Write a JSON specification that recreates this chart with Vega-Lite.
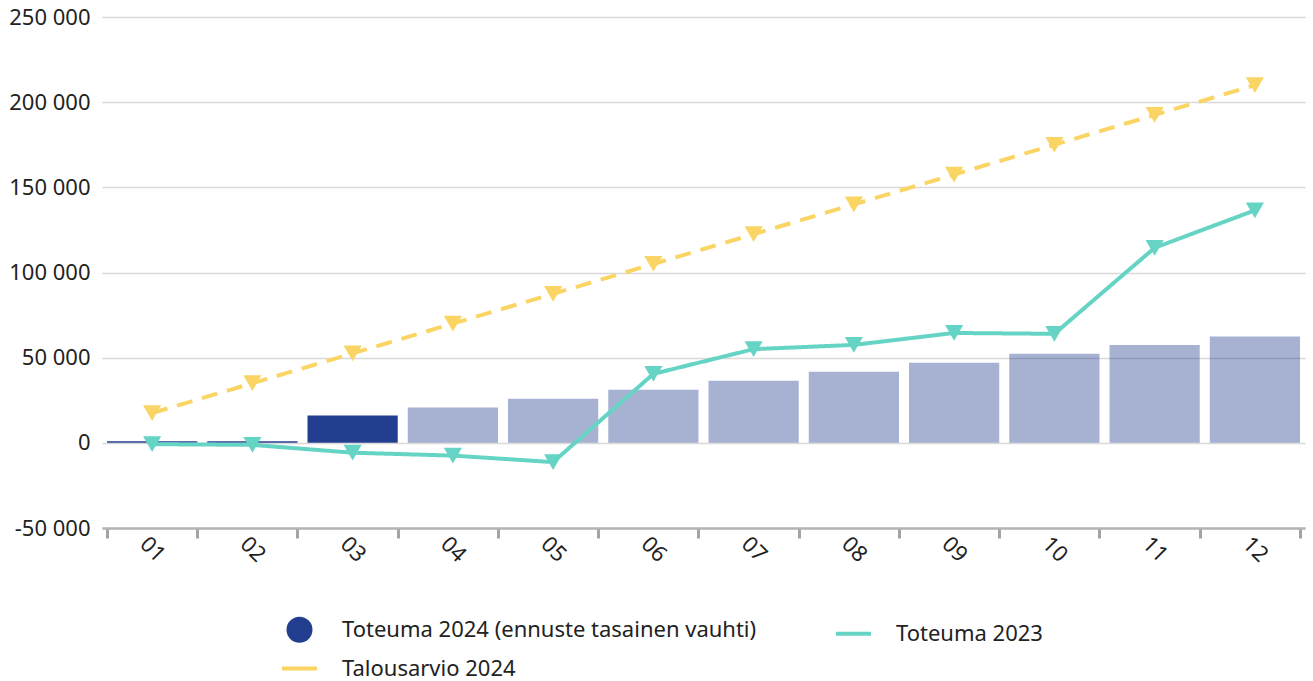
{
  "$schema": "https://vega.github.io/schema/vega-lite/v6.json",
  "width": 1203,
  "height": 511,
  "autosize": "none",
  "padding": {"left": 102, "top": 17, "right": 8, "bottom": 153},
  "config": {
    "font": "Noto Sans",
    "view": {"stroke": null},
    "locale": {"number": {"decimal": ",", "thousands": " ", "grouping": [3], "currency": ["", " €"], "minus": "-"}}
  },
  "data": {
    "values": [
      {"kk": "01", "sarja": "Toteuma 2024 (ennuste tasainen vauhti)", "arvo": 900, "ennuste": "ei"},
      {"kk": "02", "sarja": "Toteuma 2024 (ennuste tasainen vauhti)", "arvo": 1000, "ennuste": "ei"},
      {"kk": "03", "sarja": "Toteuma 2024 (ennuste tasainen vauhti)", "arvo": 16000, "ennuste": "ei"},
      {"kk": "04", "sarja": "Toteuma 2024 (ennuste tasainen vauhti)", "arvo": 20700, "ennuste": "kyllä"},
      {"kk": "05", "sarja": "Toteuma 2024 (ennuste tasainen vauhti)", "arvo": 25900, "ennuste": "kyllä"},
      {"kk": "06", "sarja": "Toteuma 2024 (ennuste tasainen vauhti)", "arvo": 31200, "ennuste": "kyllä"},
      {"kk": "07", "sarja": "Toteuma 2024 (ennuste tasainen vauhti)", "arvo": 36500, "ennuste": "kyllä"},
      {"kk": "08", "sarja": "Toteuma 2024 (ennuste tasainen vauhti)", "arvo": 41800, "ennuste": "kyllä"},
      {"kk": "09", "sarja": "Toteuma 2024 (ennuste tasainen vauhti)", "arvo": 47000, "ennuste": "kyllä"},
      {"kk": "10", "sarja": "Toteuma 2024 (ennuste tasainen vauhti)", "arvo": 52300, "ennuste": "kyllä"},
      {"kk": "11", "sarja": "Toteuma 2024 (ennuste tasainen vauhti)", "arvo": 57500, "ennuste": "kyllä"},
      {"kk": "12", "sarja": "Toteuma 2024 (ennuste tasainen vauhti)", "arvo": 62500, "ennuste": "kyllä"},
      {"kk": "01", "sarja": "Talousarvio 2024", "arvo": 17500},
      {"kk": "02", "sarja": "Talousarvio 2024", "arvo": 35000},
      {"kk": "03", "sarja": "Talousarvio 2024", "arvo": 52500},
      {"kk": "04", "sarja": "Talousarvio 2024", "arvo": 70000},
      {"kk": "05", "sarja": "Talousarvio 2024", "arvo": 87500},
      {"kk": "06", "sarja": "Talousarvio 2024", "arvo": 105000},
      {"kk": "07", "sarja": "Talousarvio 2024", "arvo": 122500},
      {"kk": "08", "sarja": "Talousarvio 2024", "arvo": 140000},
      {"kk": "09", "sarja": "Talousarvio 2024", "arvo": 157500},
      {"kk": "10", "sarja": "Talousarvio 2024", "arvo": 175000},
      {"kk": "11", "sarja": "Talousarvio 2024", "arvo": 192500},
      {"kk": "12", "sarja": "Talousarvio 2024", "arvo": 210000},
      {"kk": "01", "sarja": "Toteuma 2023", "arvo": -800},
      {"kk": "02", "sarja": "Toteuma 2023", "arvo": -1200},
      {"kk": "03", "sarja": "Toteuma 2023", "arvo": -5800},
      {"kk": "04", "sarja": "Toteuma 2023", "arvo": -7500},
      {"kk": "05", "sarja": "Toteuma 2023", "arvo": -11300},
      {"kk": "06", "sarja": "Toteuma 2023", "arvo": 40500},
      {"kk": "07", "sarja": "Toteuma 2023", "arvo": 55000},
      {"kk": "08", "sarja": "Toteuma 2023", "arvo": 57500},
      {"kk": "09", "sarja": "Toteuma 2023", "arvo": 64500},
      {"kk": "10", "sarja": "Toteuma 2023", "arvo": 64000},
      {"kk": "11", "sarja": "Toteuma 2023", "arvo": 114500},
      {"kk": "12", "sarja": "Toteuma 2023", "arvo": 136500}
    ]
  },
  "encoding": {
    "x": {
      "field": "kk", "type": "ordinal", "title": null,
      "scale": {"paddingInner": 0.1, "paddingOuter": 0.05},
      "axis": {
        "labelAngle": 45, "labelAlign": "center", "labelBaseline": "middle",
        "labelFontSize": 22, "labelColor": "#222", "labelPadding": 11,
        "tickBand": "extent", "tickSize": 10, "tickWidth": 3, "tickColor": "#a0a3a8",
        "domainColor": "#b4b4b4", "domainWidth": 2.5, "grid": false
      }
    },
    "y": {
      "field": "arvo", "type": "quantitative", "title": null,
      "scale": {"domain": [-50000, 250000], "nice": false, "zero": false},
      "axis": {
        "values": [-50000, 0, 50000, 100000, 150000, 200000, 250000],
        "format": ",d", "labelFontSize": 22, "labelColor": "#222", "labelPadding": 12,
        "ticks": false, "domain": false, "gridColor": "#d9d9d9", "gridWidth": 1.5
      }
    },
    "color": {
      "field": "sarja", "type": "nominal",
      "scale": {
        "domain": ["Toteuma 2024 (ennuste tasainen vauhti)", "Toteuma 2023", "Talousarvio 2024"],
        "range": ["#233e8f", "#66d4c4", "#fad564"]
      },
      "legend": {
        "title": null, "orient": "none", "legendX": 178, "legendY": 593,
        "direction": "horizontal", "columns": 2, "columnPadding": 71, "rowPadding": -4,
        "padding": 0, "symbolSize": 1225, "symbolStrokeWidth": 4,
        "labelFontSize": 22, "labelColor": "#222", "labelOffset": 23, "labelLimit": 600,
        "labelBaseline": "middle",
        "symbolOpacity": 1,
        "encode": {
          "symbols": {
            "update": {
              "shape": {"signal": "datum.value === 'Toteuma 2024 (ennuste tasainen vauhti)' ? 'circle' : 'stroke'"},
              "size": {"signal": "datum.value === 'Toteuma 2024 (ennuste tasainen vauhti)' ? 484 : 1225"},
              "fill": {"scale": "color", "field": "value"},
              "stroke": {"scale": "color", "field": "value"},
              "strokeWidth": {"value": 4},
              "opacity": {"value": 1}
            }
          }
        }
      }
    }
  },
  "layer": [
    {
      "transform": [{"filter": "datum.sarja === 'Toteuma 2024 (ennuste tasainen vauhti)'"}],
      "mark": {"type": "bar"},
      "encoding": {
        "opacity": {
          "field": "ennuste", "type": "nominal",
          "scale": {"domain": ["ei", "kyllä"], "range": [1, 0.4]},
          "legend": null
        }
      }
    },
    {
      "transform": [{"filter": "datum.sarja !== 'Toteuma 2024 (ennuste tasainen vauhti)'"}],
      "mark": {"type": "line", "strokeWidth": 4},
      "encoding": {
        "strokeDash": {
          "field": "sarja", "type": "nominal",
          "scale": {"domain": ["Talousarvio 2024", "Toteuma 2023"], "range": [[16, 10], [1, 0]]},
          "legend": null
        }
      }
    },
    {
      "transform": [{"filter": "datum.sarja !== 'Toteuma 2024 (ennuste tasainen vauhti)'"}],
      "mark": {"type": "point", "shape": "triangle-down", "filled": true, "size": 330, "opacity": 1}
    }
  ]
}
